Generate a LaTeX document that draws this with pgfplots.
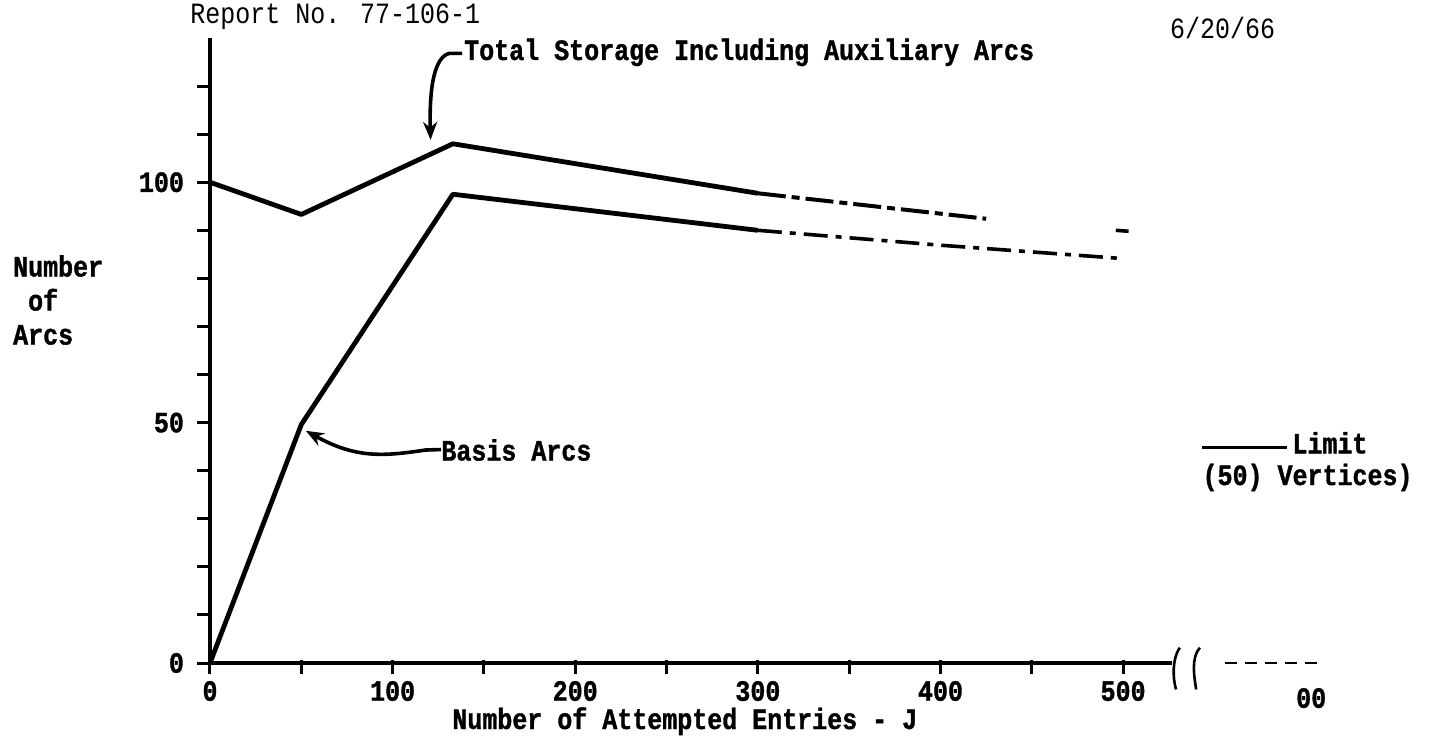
\documentclass[border=0pt]{standalone}
\usepackage{fontspec}
\setmainfont{Liberation Mono}[FakeStretch=0.85, BoldFeatures={FakeBold=1.2}]
\usepackage{pgfplots}
\pgfplotsset{compat=1.18}
\usetikzlibrary{arrows.meta}
\newcommand\tw{\fontsize{14.7}{17}\selectfont\bfseries}
\newcommand\twr{\fontsize{14.7}{17}\selectfont}
\begin{document}
\begin{tikzpicture}
\path[use as bounding box] (-105pt,-41.5pt) rectangle (612pt,331.5pt);
\begin{axis}[
  at={(0,0)}, anchor=south west, scale only axis,
  width=557pt, height=312.5pt,
  xmin=0, xmax=610, ymin=0, ymax=130,
  clip=false,
  axis lines=left,
  axis line style={-, line width=1.8pt},
  x axis line style={draw=none},
  tick align=center, major tick length=7pt,
  tick style={line width=1.5pt, black},
  xtick style={yshift=-2pt},
  ytick style={xshift=-3pt},
  xtick={0,50,...,500},
  xticklabels={0,,100,,200,,300,,400,,500},
  ytick={0,10,...,120},
  yticklabels={0,,,,,50,,,,,100,,},
  xticklabel style={font=\tw, yshift=-2pt},
  yticklabel style={font=\tw, xshift=-6pt},
]
% Total storage including auxiliary arcs
\addplot[black, line width=2.4pt, line join=round] coordinates {
  (0,100) (50,93.3) (133,108) (300,97.7)
};
\addplot[black, line width=2pt, dash pattern=on 14pt off 3pt on 4pt off 3pt] coordinates {
  (300,97.7) (425,92.4)
};
\addplot[black, line width=1.8pt] coordinates {
  (496,90.0) (503,89.8)
};
% Basis arcs
\addplot[black, line width=2.4pt, line join=round] coordinates {
  (0,0) (50,49.6) (133,97.5) (300,90.0)
};
\addplot[black, line width=1.8pt, dash pattern=on 12pt off 4pt on 3pt off 4pt] coordinates {
  (300,90.0) (400,86.9) (497,84.2)
};

% x axis line with break
\draw[line width=1.8pt] (axis cs:0,0) -- (axis cs:527,0);
\draw[line width=1.3pt] (axis cs:531,3.2) .. controls (axis cs:527,1) and (axis cs:527,-3) .. (axis cs:529,-5.5);
\draw[line width=1.3pt] (axis cs:542,3.2) .. controls (axis cs:537,1) and (axis cs:539,-3) .. (axis cs:540,-5.5);
\draw[line width=1.2pt, dash pattern=on 6pt off 4pt] (axis cs:556,0) -- (axis cs:610,0);
\node[font=\tw] at (axis cs:603,-7.3) {00};

% labels
\node[font=\twr, anchor=west, inner sep=0pt] at (axis cs:-11,134.4) {Report No. 77-106-1};
\node[font=\twr, anchor=west, inner sep=0pt] at (axis cs:525.5,132) {6/20/66};
\node[font=\tw, anchor=west, align=left, inner sep=0pt] at (axis cs:-108,75.5) {Number\\\ of\\Arcs};
\node[font=\tw] at (axis cs:260,-12.1) {Number of Attempted Entries - J};

\node[font=\tw, anchor=west, inner sep=0pt] at (axis cs:139,127) {Total Storage Including Auxiliary Arcs};
\draw[line width=1.8pt, -{Stealth[length=9pt,width=7pt]}]
  (axis cs:138,126.8) -- (axis cs:131,126.8) .. controls (axis cs:123,126) and (axis cs:120,120) .. (axis cs:120.8,108.8);

\node[font=\tw, anchor=west, inner sep=0pt] at (axis cs:126.5,44.3) {Basis Arcs};
\draw[line width=1.8pt, -{Stealth[length=9pt,width=7pt]}]
  (axis cs:126.5,44.4) -- (axis cs:118,44.3) .. controls (axis cs:95,43.0) and (axis cs:80,42.5) .. (axis cs:52.5,48.3);

\draw[line width=1.5pt] (axis cs:543.3,44.8) -- (axis cs:589.8,44.8);
\node[font=\tw, anchor=west, inner sep=0pt] at (axis cs:592.5,45.8) {Limit};
\node[font=\tw, anchor=west, inner sep=0pt] at (axis cs:543.3,38.6) {(50) Vertices)};
\end{axis}
\end{tikzpicture}
\end{document}
